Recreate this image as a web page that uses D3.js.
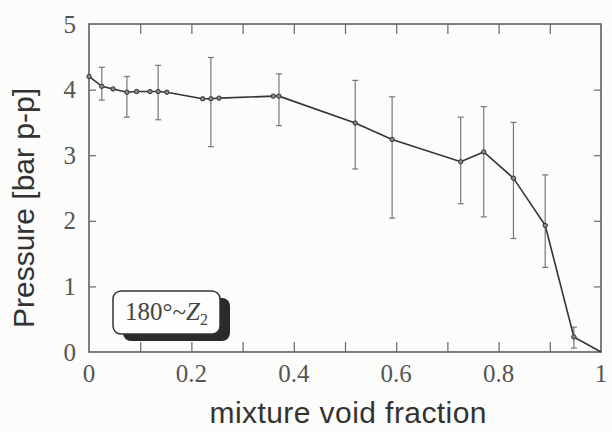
<!doctype html>
<html lang="en">
  <head>
    <meta charset="utf-8">
    <title>Pressure vs mixture void fraction</title>
    <script src="https://d3js.org/d3.v7.min.js"></script>
    <style>
    body { margin: 0; background: #fcfcfa; }
    .tick-label { font-family: "Liberation Serif", serif; font-size: 25px; fill: #555; }
    .axis-title { font-family: "Liberation Sans", Arial, sans-serif; font-size: 30px; fill: #333; }
    </style>
  </head>
  <body>
    <svg width="612" height="432"></svg>
    <script>
      // mean pressure points
      var voidFrac = [0, 0.025, 0.047, 0.074, 0.093, 0.119, 0.135, 0.152, 0.222, 0.238, 0.254,
                      0.36, 0.371, 0.52, 0.592, 0.726, 0.771, 0.829, 0.891, 0.947, 1.0];
      var pressure = [4.2, 4.05, 4.01, 3.96, 3.97, 3.97, 3.97, 3.96, 3.86, 3.86, 3.87,
                      3.9, 3.9, 3.49, 3.24, 2.9, 3.05, 2.65, 1.93, 0.23, 0];

      // error bars
      var errX  = [0.025, 0.074, 0.135, 0.238, 0.371, 0.52, 0.592, 0.726, 0.771, 0.829, 0.891, 0.947];
      var errHi = [4.34, 4.2, 4.37, 4.49, 4.24, 4.14, 3.89, 3.58, 3.74, 3.5, 2.7, 0.38];
      var errLo = [3.84, 3.58, 3.54, 3.13, 3.45, 2.79, 2.04, 2.26, 2.06, 1.73, 1.29, 0.06];

      var xTickLabels = ['0', '0.2', '0.4', '0.6', '0.8', '1'];
      var yTickLabels = ['0', '1', '2', '3', '4', '5'];

      var pL = 89, pR = 601, pT = 24, pB = 352;
      var svg = d3.select('svg');

      var x = d3.scaleLinear().domain([0, 1]).range([pL, pR]);
      var y = d3.scaleLinear().domain([0, 5]).range([pB, pT]);

      // frame
      svg.append('rect')
        .attr('x', pL).attr('y', pT)
        .attr('width', pR - pL).attr('height', pB - pT)
        .attr('fill', 'none').attr('stroke', '#555').attr('stroke-width', 1.5);

      // inward ticks via axes
      var minor = d3.range(1, 10).map(function(i){ return i / 10; });
      svg.append('g').attr('transform', 'translate(0,' + pB + ')')
        .call(d3.axisTop(x).tickValues(minor).tickSize(10).tickFormat(''));
      svg.append('g').attr('transform', 'translate(0,' + pT + ')')
        .call(d3.axisBottom(x).tickValues(minor).tickSize(10).tickFormat(''));
      svg.append('g').attr('transform', 'translate(' + pL + ',0)')
        .call(d3.axisRight(y).tickValues([1, 2, 3, 4]).tickSize(7).tickFormat(''));
      svg.append('g').attr('transform', 'translate(' + pR + ',0)')
        .call(d3.axisLeft(y).tickValues([1, 2, 3, 4]).tickSize(7).tickFormat(''));
      svg.selectAll('.domain').remove();
      svg.selectAll('.tick line').attr('stroke', '#666').attr('stroke-width', 1.2);

      // tick labels
      svg.selectAll('.xl').data(xTickLabels).enter().append('text')
        .attr('class', 'tick-label')
        .attr('x', function(d){ return x(+d); })
        .attr('y', 382)
        .attr('text-anchor', 'middle')
        .text(function(d){ return d; });
      svg.selectAll('.yl').data(yTickLabels).enter().append('text')
        .attr('class', 'tick-label')
        .attr('x', 76)
        .attr('y', function(d){ return y(+d) + 8.5; })
        .attr('text-anchor', 'end')
        .text(function(d){ return d; });

      // axis titles
      svg.append('text').attr('class', 'axis-title')
        .attr('x', 348).attr('y', 423).attr('text-anchor', 'middle')
        .style('font-size', '30px')
        .attr('textLength', 277)
        .text('mixture void fraction');
      svg.append('text').attr('class', 'axis-title')
        .attr('transform', 'translate(34,208) rotate(-90)')
        .attr('text-anchor', 'middle')
        .text('Pressure [bar p-p]');

      // error bars
      var eb = svg.append('g').attr('stroke', '#777').attr('stroke-width', 1.2);
      errX.forEach(function(v, i){
        eb.append('line').attr('x1', x(v)).attr('x2', x(v)).attr('y1', y(errLo[i])).attr('y2', y(errHi[i]));
        eb.append('line').attr('x1', x(v) - 3).attr('x2', x(v) + 3).attr('y1', y(errLo[i])).attr('y2', y(errLo[i]));
        eb.append('line').attr('x1', x(v) - 3).attr('x2', x(v) + 3).attr('y1', y(errHi[i])).attr('y2', y(errHi[i]));
      });

      // line
      var pts = voidFrac.map(function(v, i){ return [v, pressure[i]]; });
      svg.append('path')
        .attr('d', d3.line().x(function(d){ return x(d[0]); }).y(function(d){ return y(d[1]); })(pts))
        .attr('fill', 'none').attr('stroke', '#333').attr('stroke-width', 1.6);

      svg.selectAll('circle').data(pts.slice(0, -1)).enter().append('circle')
        .attr('cx', function(d){ return x(d[0]); })
        .attr('cy', function(d){ return y(d[1]); })
        .attr('r', 2.2)
        .attr('fill', '#888').attr('stroke', '#333').attr('stroke-width', 1);

      // annotation box with shadow
      var bx = 113, by = 291, bw = 107, bh = 43;
      svg.append('rect').attr('x', bx + 10).attr('y', by + 7).attr('width', bw).attr('height', bh)
        .attr('rx', 8).attr('fill', '#2a2a2a');
      svg.append('rect').attr('x', bx).attr('y', by).attr('width', bw).attr('height', bh)
        .attr('rx', 8).attr('fill', '#fdfdfb').attr('stroke', '#333').attr('stroke-width', 1.5);
      var lbl = svg.append('text').attr('x', bx + 12).attr('y', by + 29)
        .attr('font-family', '"Liberation Serif", serif').attr('font-size', 25).attr('fill', '#444');
      lbl.append('tspan').text('180\u00b0~');
      lbl.append('tspan').attr('font-style', 'italic').text('Z');
      lbl.append('tspan').attr('font-size', 16).attr('dy', 5).text('2');
    </script>
  </body>
</html>
